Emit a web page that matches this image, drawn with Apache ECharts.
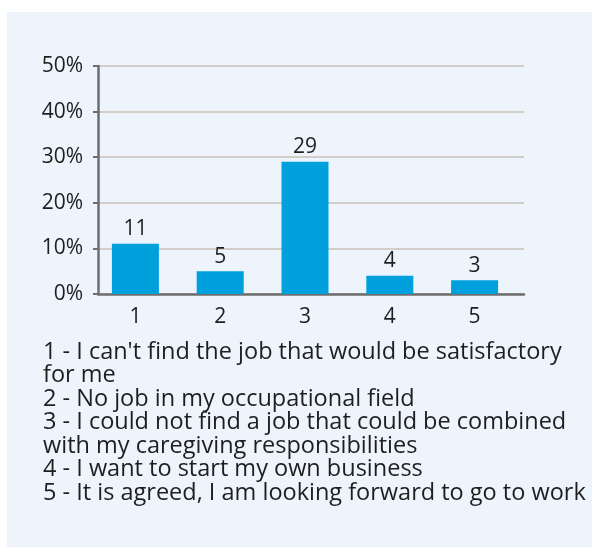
<!DOCTYPE html>
<html>
<head>
<meta charset="utf-8">
<style>
  html, body { margin: 0; padding: 0; background: #ffffff; }
  #chart { width: 592px; height: 547px; }
</style>
<script src="https://cdn.jsdelivr.net/npm/echarts@6/dist/echarts.min.js"></script>
</head>
<body>
<div id="chart"></div>
<script>
// Reasons for not working (share of answers, %)
const categories = ['1', '2', '3', '4', '5'];
const values = [11, 5, 29, 4, 3];
const yTicks = { min: 0, max: 50, interval: 10 };
const legendLines = [
  "1 - I can't find the job that would be satisfactory",
  "for me",
  "2 - No job in my occupational field",
  "3 - I could not find a job that could be combined",
  "with my caregiving responsibilities",
  "4 - I want to start my own business",
  "5 - It is agreed, I am looking forward to go to work"
];

const FONT = '"Open Sans"';
const INK = '#1e1e1e';
const AXIS = '#6e6e6e';
const chart = echarts.init(document.getElementById('chart'), null, { renderer: 'canvas' });

chart.setOption({
  backgroundColor: '#ffffff',
  animation: false,
  textStyle: { fontFamily: FONT },
  graphic: [
    {
      type: 'rect',
      z: -10,
      silent: true,
      shape: { x: 7, y: 12, width: 585, height: 535 },
      style: { fill: '#edf4fc' }
    },
    {
      type: 'text',
      left: 43,
      top: 340,
      style: {
        text: legendLines.join('\n'),
        font: '23.5px ' + FONT,
        lineHeight: 23.5,
        fill: INK
      }
    }
  ],
  // grid 0: frame, gridlines and percent axis; grid 1: the bar plotting area
  grid: [
    { left: 98, right: 68, top: 66, bottom: 253 },
    { left: 93, right: 75, top: 66, bottom: 253 }
  ],
  xAxis: [
    {
      type: 'category',
      gridIndex: 0,
      data: categories,
      axisLine: { lineStyle: { color: AXIS, width: 2.5 } },
      axisTick: { show: false },
      axisLabel: { show: false }
    },
    {
      type: 'category',
      gridIndex: 1,
      data: categories,
      axisLine: { show: false },
      axisTick: { show: false },
      axisLabel: { color: INK, fontSize: 21, margin: 13, fontFamily: FONT }
    }
  ],
  yAxis: [
    {
      type: 'value',
      gridIndex: 0,
      min: yTicks.min,
      max: yTicks.max,
      interval: yTicks.interval,
      axisLine: { show: true, lineStyle: { color: AXIS, width: 2.5 } },
      axisTick: { show: true, length: 5, lineStyle: { color: AXIS, width: 2 } },
      splitLine: { lineStyle: { color: '#c9c1b8', width: 1.5 } },
      axisLabel: { color: INK, fontSize: 21, margin: 15, fontFamily: FONT, formatter: '{value}%' }
    },
    {
      type: 'value',
      gridIndex: 1,
      min: yTicks.min,
      max: yTicks.max,
      interval: yTicks.interval,
      show: false
    }
  ],
  series: [{
    type: 'bar',
    xAxisIndex: 1,
    yAxisIndex: 1,
    data: values,
    barWidth: 47,
    itemStyle: { color: '#00a0dc' },
    label: {
      show: true,
      position: 'top',
      distance: 4,
      color: INK,
      fontSize: 21,
      fontFamily: FONT
    }
  }]
});
</script>
</body>
</html>
